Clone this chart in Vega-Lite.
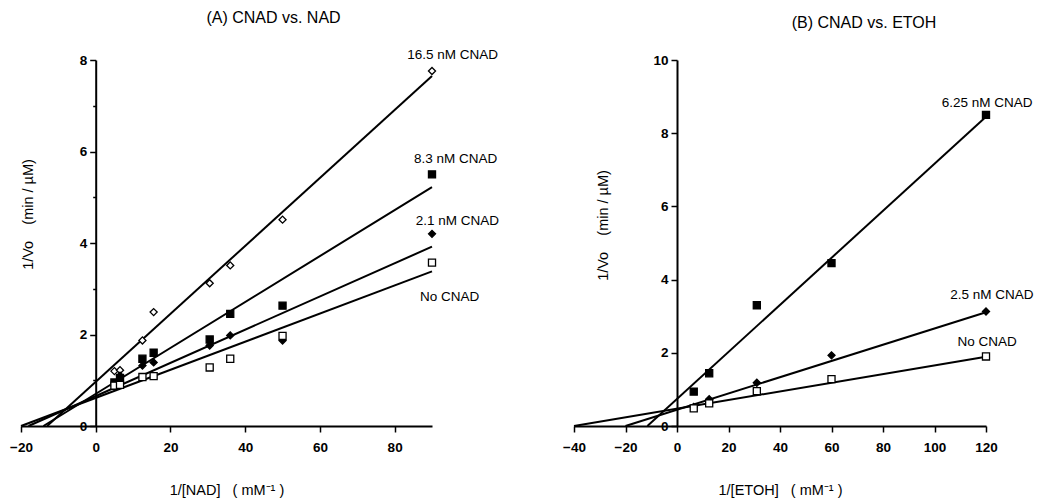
{
  "$schema": "https://vega.github.io/schema/vega-lite/v6.json",
  "background": "white",
  "padding": {"left": 9, "top": 10, "right": 5, "bottom": 5},
  "config": {
    "font": "Liberation Sans",
    "view": {"stroke": null},
    "axis": {
      "domainColor": "black", "domainWidth": 2, "tickColor": "black", "tickWidth": 1.5,
      "labelColor": "black", "titleColor": "black", "labelFont": "Liberation Sans", "titleFont": "Liberation Sans",
      "labelFontSize": 13.5, "labelFontWeight": "bold", "titleFontSize": 14.5, "titleFontWeight": "normal",
      "grid": false, "labelOverlap": false, "labelFlush": false
    },
    "title": {"fontSize": 16, "fontWeight": "normal", "color": "black", "font": "Liberation Sans"}
  },
  "datasets": {
    "linesA": [
      {"series": "16.5", "x": -13, "y": 0}, {"series": "16.5", "x": 90, "y": 7.65},
      {"series": "8.3", "x": -14, "y": 0}, {"series": "8.3", "x": 90, "y": 5.22},
      {"series": "2.1", "x": -18, "y": 0}, {"series": "2.1", "x": 90, "y": 3.92},
      {"series": "none", "x": -20, "y": 0}, {"series": "none", "x": 90, "y": 3.38}
    ],
    "pointsA": [
      {"series": "16.5", "x": 5, "y": 1.2}, {"series": "16.5", "x": 6.5, "y": 1.22}, {"series": "16.5", "x": 12.5, "y": 1.87}, {"series": "16.5", "x": 15.5, "y": 2.49}, {"series": "16.5", "x": 30.5, "y": 3.12}, {"series": "16.5", "x": 36, "y": 3.51}, {"series": "16.5", "x": 50, "y": 4.51}, {"series": "16.5", "x": 90, "y": 7.76},
      {"series": "8.3", "x": 5, "y": 0.95}, {"series": "8.3", "x": 6.5, "y": 1.05}, {"series": "8.3", "x": 12.5, "y": 1.47}, {"series": "8.3", "x": 15.5, "y": 1.6}, {"series": "8.3", "x": 30.5, "y": 1.89}, {"series": "8.3", "x": 36, "y": 2.45}, {"series": "8.3", "x": 50, "y": 2.63}, {"series": "8.3", "x": 90, "y": 5.5},
      {"series": "2.1", "x": 5, "y": 0.92}, {"series": "2.1", "x": 6.5, "y": 1.1}, {"series": "2.1", "x": 12.5, "y": 1.32}, {"series": "2.1", "x": 15.5, "y": 1.39}, {"series": "2.1", "x": 30.5, "y": 1.76}, {"series": "2.1", "x": 36, "y": 1.98}, {"series": "2.1", "x": 50, "y": 1.87}, {"series": "2.1", "x": 90, "y": 4.2},
      {"series": "none", "x": 5, "y": 0.88}, {"series": "none", "x": 6.5, "y": 0.9}, {"series": "none", "x": 12.5, "y": 1.07}, {"series": "none", "x": 15.5, "y": 1.09}, {"series": "none", "x": 30.5, "y": 1.28}, {"series": "none", "x": 36, "y": 1.47}, {"series": "none", "x": 50, "y": 1.97}, {"series": "none", "x": 90, "y": 3.57}
    ],
    "labelsA": [
      {"label": "16.5 nM CNAD", "x": 95.5, "y": 8.1},
      {"label": "8.3 nM CNAD", "x": 96.3, "y": 5.84},
      {"label": "2.1 nM CNAD", "x": 96.8, "y": 4.49},
      {"label": "No CNAD", "x": 94.7, "y": 2.82}
    ],
    "linesB": [
      {"series": "6.25", "x": -11.5, "y": 0}, {"series": "6.25", "x": 120, "y": 8.45},
      {"series": "2.5", "x": -20, "y": 0}, {"series": "2.5", "x": 120, "y": 3.11},
      {"series": "none", "x": -40, "y": 0}, {"series": "none", "x": 120, "y": 1.89}
    ],
    "pointsB": [
      {"series": "6.25", "x": 6.5, "y": 0.94}, {"series": "6.25", "x": 12.5, "y": 1.44}, {"series": "6.25", "x": 31, "y": 3.3}, {"series": "6.25", "x": 60, "y": 4.45}, {"series": "6.25", "x": 120, "y": 8.5},
      {"series": "2.5", "x": 6.5, "y": 0.52}, {"series": "2.5", "x": 12.5, "y": 0.73}, {"series": "2.5", "x": 31, "y": 1.18}, {"series": "2.5", "x": 60, "y": 1.93}, {"series": "2.5", "x": 120, "y": 3.13},
      {"series": "none", "x": 6.5, "y": 0.48}, {"series": "none", "x": 12.5, "y": 0.62}, {"series": "none", "x": 31, "y": 0.95}, {"series": "none", "x": 60, "y": 1.28}, {"series": "none", "x": 120, "y": 1.9}
    ],
    "labelsB": [
      {"label": "6.25 nM CNAD", "x": 120.4, "y": 8.83},
      {"label": "2.5 nM CNAD", "x": 122.3, "y": 3.57},
      {"label": "No CNAD", "x": 120.4, "y": 2.3}
    ]
  },
  "bounds": "flush",
  "spacing": 142,
  "resolve": {"scale": {"shape": "independent", "fill": "independent"}},
  "hconcat": [
    {
      "width": 411,
      "height": 366,
      "title": {"text": "(A) CNAD vs. NAD", "dx": 47, "offset": 22},
      "layer": [
        {
          "data": {"name": "linesA"},
          "mark": {"type": "line", "color": "black", "strokeWidth": 2},
          "encoding": {
            "x": {"field": "x", "type": "quantitative",
              "scale": {"domain": [-20, 90], "nice": false, "zero": false},
              "axis": {"values": [-20, -10, 0, 10, 20, 30, 40, 50, 60, 70, 80, 90],
                "labelExpr": "datum.value % 20 === 0 ? datum.label : ''",
                "tickSize": {"condition": {"test": "datum.value % 20 === 0", "value": 6}, "value": 3},
                "labelPadding": 8, "title": "1/[NAD]\u00a0\u00a0\u00a0( mM⁻¹ )", "titlePadding": 30}},
            "y": {"field": "y", "type": "quantitative",
              "scale": {"domain": [0, 8], "nice": false, "zero": false},
              "axis": {"values": [0, 1, 2, 3, 4, 5, 6, 7, 8], "offset": -74.7,
                "labelExpr": "datum.value % 2 === 0 ? datum.label : ''",
                "tickSize": {"condition": {"test": "datum.value % 2 === 0", "value": 6}, "value": 3},
                "labelPadding": 3, "title": "1/Vo\u00a0\u00a0\u00a0\u00a0(min / µM)", "titlePadding": 44, "titleY": 154}},
            "detail": {"field": "series"}
          }
        },
        {
          "data": {"name": "pointsA"},
          "mark": {"type": "point", "filled": true, "stroke": "black", "strokeWidth": 1.3, "size": 50, "opacity": 1},
          "encoding": {
            "x": {"field": "x", "type": "quantitative"},
            "y": {"field": "y", "type": "quantitative"},
            "shape": {"field": "series", "scale": {"domain": ["16.5", "8.3", "2.1", "none"], "range": ["diamond", "square", "diamond", "square"]}, "legend": null},
            "fill": {"field": "series", "scale": {"domain": ["16.5", "8.3", "2.1", "none"], "range": ["white", "black", "black", "white"]}, "legend": null}
          }
        },
        {
          "data": {"name": "labelsA"},
          "mark": {"type": "text", "fontSize": 13.5, "align": "center", "baseline": "middle", "color": "black", "font": "Liberation Sans"},
          "encoding": {
            "x": {"field": "x", "type": "quantitative"},
            "y": {"field": "y", "type": "quantitative"},
            "text": {"field": "label"}
          }
        }
      ]
    },
    {
      "width": 412,
      "height": 366,
      "title": {"text": "(B) CNAD vs. ETOH", "dx": 84, "offset": 22},
      "layer": [
        {
          "data": {"name": "linesB"},
          "mark": {"type": "line", "color": "black", "strokeWidth": 2},
          "encoding": {
            "x": {"field": "x", "type": "quantitative",
              "scale": {"domain": [-40, 120], "nice": false, "zero": false},
              "axis": {"values": [-40, -30, -20, -10, 0, 10, 20, 30, 40, 50, 60, 70, 80, 90, 100, 110, 120],
                "labelExpr": "datum.value % 20 === 0 ? datum.label : ''",
                "tickSize": {"condition": {"test": "datum.value % 20 === 0", "value": 6}, "value": 3},
                "labelPadding": 8, "title": "1/[ETOH]\u00a0\u00a0\u00a0( mM⁻¹ )", "titlePadding": 30}},
            "y": {"field": "y", "type": "quantitative",
              "scale": {"domain": [0, 10], "nice": false, "zero": false},
              "axis": {"values": [0, 1, 2, 3, 4, 5, 6, 7, 8, 9, 10], "offset": -103,
                "labelExpr": "datum.value % 2 === 0 ? datum.label : ''",
                "tickSize": {"condition": {"test": "datum.value % 2 === 0", "value": 6}, "value": 3},
                "labelPadding": 3, "title": "1/Vo\u00a0\u00a0\u00a0\u00a0(min / µM)", "titlePadding": 42, "titleY": 165}},
            "detail": {"field": "series"}
          }
        },
        {
          "data": {"name": "pointsB"},
          "mark": {"type": "point", "filled": true, "stroke": "black", "strokeWidth": 1.3, "size": 50, "opacity": 1},
          "encoding": {
            "x": {"field": "x", "type": "quantitative"},
            "y": {"field": "y", "type": "quantitative"},
            "shape": {"field": "series", "scale": {"domain": ["6.25", "2.5", "none"], "range": ["square", "diamond", "square"]}, "legend": null},
            "fill": {"field": "series", "scale": {"domain": ["6.25", "2.5", "none"], "range": ["black", "black", "white"]}, "legend": null}
          }
        },
        {
          "data": {"name": "labelsB"},
          "mark": {"type": "text", "fontSize": 13.5, "align": "center", "baseline": "middle", "color": "black", "font": "Liberation Sans"},
          "encoding": {
            "x": {"field": "x", "type": "quantitative"},
            "y": {"field": "y", "type": "quantitative"},
            "text": {"field": "label"}
          }
        }
      ]
    }
  ]
}
